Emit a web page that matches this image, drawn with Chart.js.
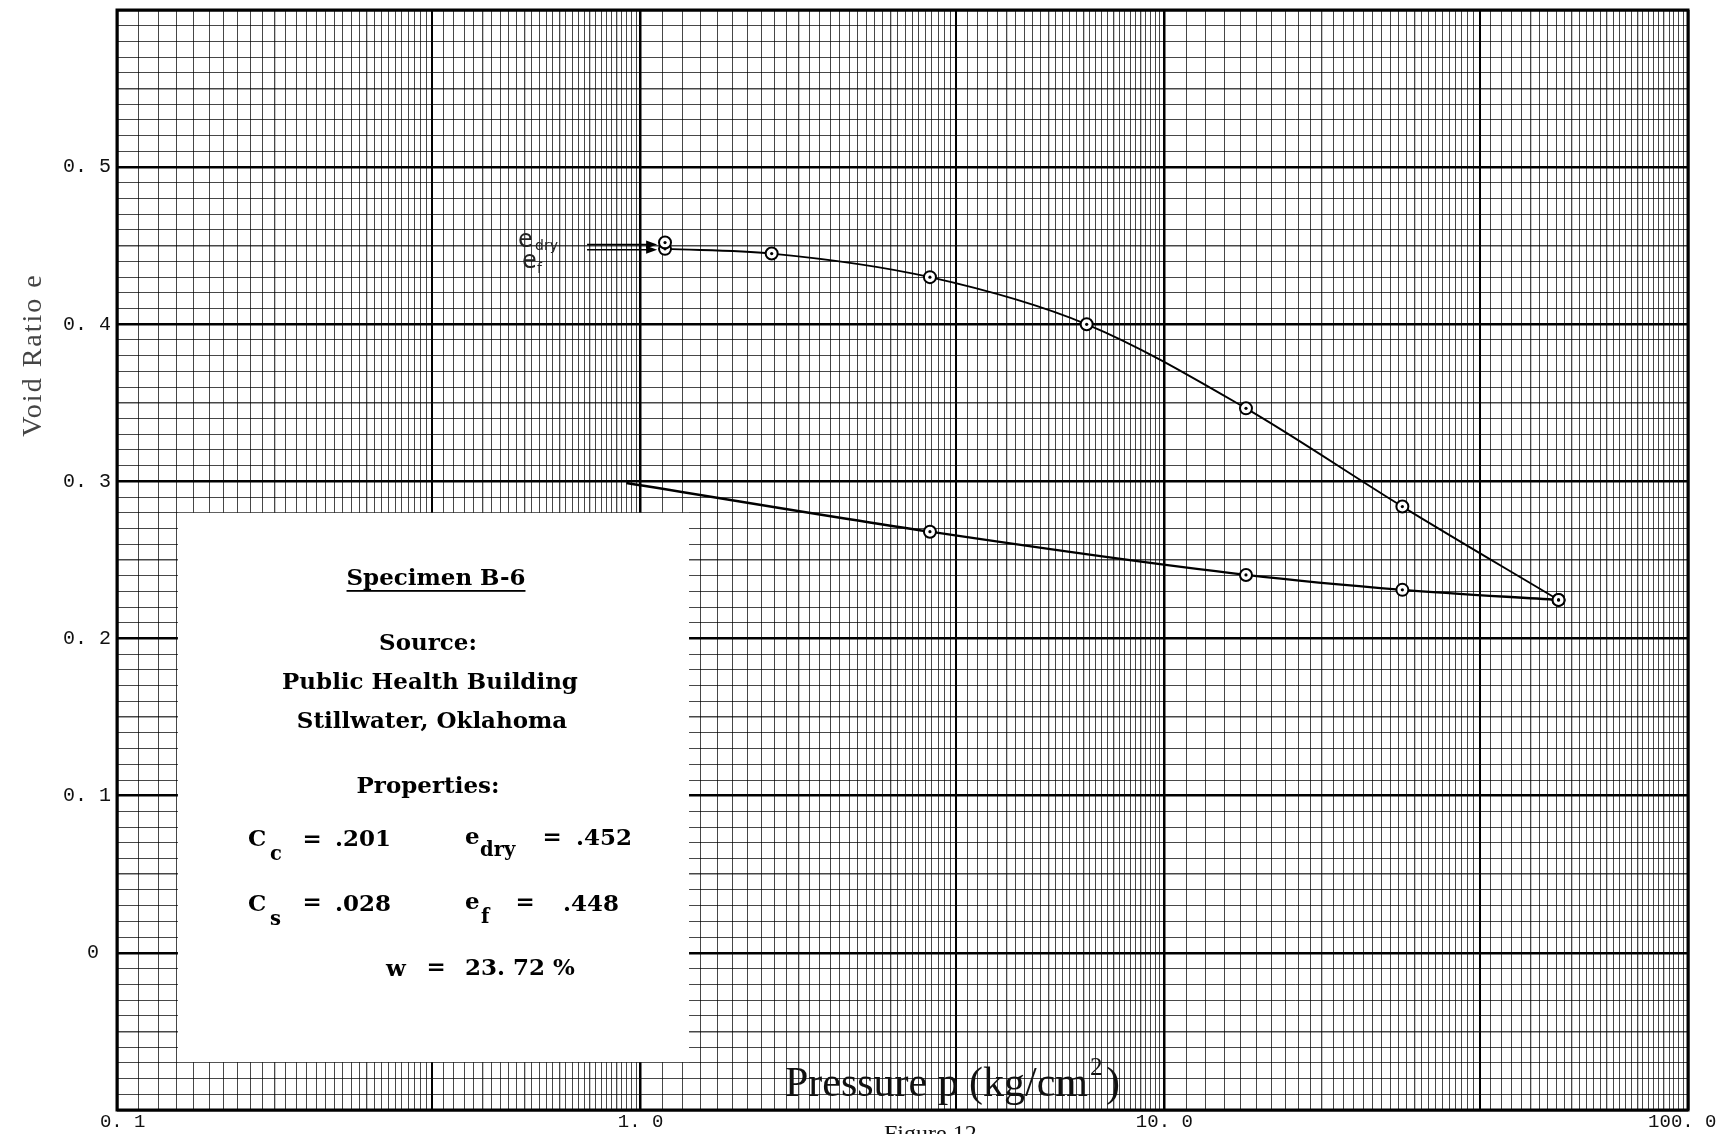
<!DOCTYPE html>
<html>
<head>
<meta charset="utf-8">
<script src="https://cdn.jsdelivr.net/npm/chart.js@4.4.1/dist/chart.umd.min.js"></script>
<style>
html,body{margin:0;padding:0;background:#fff;}
#wrap{width:1721px;height:1134px;position:relative;}
</style>
</head>
<body>
<div id="wrap"><canvas id="c"></canvas></div>
<script>
// ---------------- data ----------------
const loadPressure    = [1.113, 1.779, 3.568, 7.107, 14.32, 28.48, 56.6];
const loadVoidRatio   = [0.448, 0.445, 0.430, 0.400, 0.3465, 0.284, 0.2246];
const unloadPressure  = [0.939, 3.568, 14.32, 28.48, 56.6];
const unloadVoidRatio = [0.299, 0.268, 0.2405, 0.231, 0.2246];
const dryPressure     = [1.113];
const dryVoidRatio    = [0.452];

const xTickValues = [0.1, 1, 10, 100];
const xTickLabels = [' 0. 1', '1. 0', '10. 0', '100. 0 '];
const yTickValues = [0, 0.1, 0.2, 0.3, 0.4, 0.5];
const yTickLabels = ['0 ', '0. 1', '0. 2', '0. 3', '0. 4', '0. 5'];

const xTitle = 'Pressure p (kg/cm';
const xTitleSup = '2';
const yTitle = 'Void Ratio e';
const figureCaption = 'Figure 12';
const boxTitle = 'Specimen B-6';
const boxLines = ['Source:', 'Public Health Building', 'Stillwater, Oklahoma', 'Properties:'];
const props = { Cc: '.201', Cs: '.028', edry: '.452', ef: '.448', w: '23. 72 %' };

// annotation geometry in data units
const arrowFromP = 0.79, arrowToP = 1.075;
const boxP = [0.1307, 1.237];
const boxE = [-0.0695, 0.28];

// ---------------- graph-paper grid values ----------------
function buildXGrid() {
  const vals = [];
  for (let e = -1; e <= 1; e++) {
    const b = Math.pow(10, e);
    for (let m = 10; m < 40; m += 1) vals.push({v: +(m / 10 * b).toPrecision(6), m});
    for (let m = 40; m < 100; m += 2) vals.push({v: +(m / 10 * b).toPrecision(6), m});
  }
  vals.push({v: 100, m: 10});
  return vals;
}
const xGrid = buildXGrid();
const xGridMant = new Map(xGrid.map(g => [g.v, g.m]));
const yGrid = [];
for (let i = -10; i <= 60; i++) yGrid.push(i / 100);

function nearIdx(arr, v) {
  for (let i = 0; i < arr.length; i++) if (Math.abs(arr[i] - v) < 1e-9 * Math.max(1, Math.abs(v))) return i;
  return -1;
}

// ---------------- drawing plugin ----------------
const paperPlugin = {
  id: 'paper',
  beforeDraw(chart) {
    const ctx = chart.ctx;
    ctx.save();
    ctx.fillStyle = '#fff';
    ctx.fillRect(0, 0, chart.width, chart.height);
    ctx.restore();
  },
  beforeDatasetsDraw(chart) {
    const {ctx, chartArea: a, scales: {x, y}} = chart;
    ctx.save();
    const x0 = x.getPixelForValue(boxP[0]), x1 = x.getPixelForValue(boxP[1]);
    const y0 = y.getPixelForValue(boxE[1]), y1 = y.getPixelForValue(boxE[0]);
    ctx.fillStyle = '#fff';
    ctx.fillRect(x0, y0, x1 - x0, y1 - y0);
    ctx.strokeStyle = '#000';
    ctx.lineWidth = 3;
    ctx.strokeRect(a.left, a.top, a.right - a.left, a.bottom - a.top);
    ctx.restore();
  },
  afterDatasetsDraw(chart) {
    const {ctx, scales: {x, y}} = chart;
    ctx.save();
    chart.data.datasets.forEach((ds, di) => {
      const meta = chart.getDatasetMeta(di);
      meta.data.forEach(pt => {
        if (pt.options && pt.options.radius > 0) {
          ctx.beginPath();
          ctx.fillStyle = '#000';
          ctx.arc(pt.x, pt.y, 1.6, 0, Math.PI * 2);
          ctx.fill();
        }
      });
    });
    const ax0 = x.getPixelForValue(arrowFromP), ax1 = x.getPixelForValue(arrowToP);
    [dryVoidRatio[0], loadVoidRatio[0]].forEach((ev, k) => {
      const ay = y.getPixelForValue(ev) + (k === 0 ? 2 : 1);
      ctx.strokeStyle = '#000';
      ctx.lineWidth = 1.5;
      ctx.beginPath(); ctx.moveTo(ax0, ay); ctx.lineTo(ax1 - 8, ay); ctx.stroke();
      ctx.beginPath(); ctx.fillStyle = '#000';
      ctx.moveTo(ax1, ay); ctx.lineTo(ax1 - 11, ay - 4); ctx.lineTo(ax1 - 11, ay + 4); ctx.closePath(); ctx.fill();
    });
    const lx = ax0 - 69;
    const ty = y.getPixelForValue(dryVoidRatio[0]);
    ctx.fillStyle = '#222';
    ctx.textBaseline = 'alphabetic';
    ctx.textAlign = 'left';
    ctx.font = '24px "DejaVu Sans"';
    ctx.fillText('e', lx, ty + 4);
    ctx.font = '14px "DejaVu Sans"';
    ctx.fillText('dry', lx + 17, ty + 7);
    ctx.font = '24px "DejaVu Sans"';
    ctx.fillText('e', lx + 4, ty + 25);
    ctx.font = '14px "DejaVu Sans"';
    ctx.fillText('f', lx + 19, ty + 30);
    ctx.restore();
  },
  afterDraw(chart) {
    const ctx = chart.ctx;
    ctx.save();
    ctx.fillStyle = '#000';
    ctx.textBaseline = 'alphabetic';

    // --- text in the white box ---
    ctx.font = 'bold 20px "DejaVu Serif"';
    const fs = 20 * 296 / ctx.measureText(boxLines[1]).width;
    const F = s => `bold ${s}px "DejaVu Serif"`;
    ctx.textAlign = 'center';
    ctx.font = F(fs);
    ctx.fillText(boxTitle, 436, 585);
    const tw = ctx.measureText(boxTitle).width;
    ctx.fillRect(436 - tw / 2, 590, tw, 1.8);
    ctx.fillText(boxLines[0], 428, 650);
    ctx.fillText(boxLines[1], 430, 689);
    ctx.fillText(boxLines[2], 432, 728);
    ctx.fillText(boxLines[3], 428, 793);

    ctx.textAlign = 'left';
    const sub = fs * 0.85;
    // Cc row
    ctx.font = F(fs); ctx.fillText('C', 248, 846);
    ctx.font = F(sub); ctx.fillText('c', 270, 860);
    ctx.font = F(fs);
    ctx.textAlign = 'center'; ctx.fillText('=', 312, 846);
    ctx.textAlign = 'left'; ctx.fillText(props.Cc, 335, 846);
    ctx.fillText('e', 465, 844);
    ctx.font = F(sub); ctx.fillText('dry', 480, 856);
    ctx.font = F(fs);
    ctx.textAlign = 'center'; ctx.fillText('=', 552, 844);
    ctx.textAlign = 'left'; ctx.fillText(props.edry, 576, 845);
    // Cs row
    ctx.font = F(fs); ctx.fillText('C', 248, 911);
    ctx.font = F(sub); ctx.fillText('s', 270, 925);
    ctx.font = F(fs);
    ctx.textAlign = 'center'; ctx.fillText('=', 312, 909);
    ctx.textAlign = 'left'; ctx.fillText(props.Cs, 335, 911);
    ctx.fillText('e', 465, 909);
    ctx.font = F(sub); ctx.fillText('f', 481, 923);
    ctx.font = F(fs);
    ctx.textAlign = 'center'; ctx.fillText('=', 525, 909);
    ctx.textAlign = 'left'; ctx.fillText(props.ef, 563, 911);
    // w row
    ctx.font = F(fs); ctx.fillText('w', 386, 976);
    ctx.textAlign = 'center'; ctx.fillText('=', 436, 974);
    ctx.textAlign = 'left'; ctx.fillText(props.w, 465, 975);

    // --- axis titles ---
    ctx.font = '28px "Liberation Serif"';
    const pw = ctx.measureText(xTitle).width;
    const ps = 28 * 303 / pw;
    ctx.font = `${ps}px "Liberation Serif"`;
    ctx.fillStyle = '#111';
    ctx.fillText(xTitle, 785, 1096);
    ctx.font = `${ps * 0.6}px "Liberation Serif"`;
    ctx.fillText(xTitleSup, 1090, 1075);
    ctx.font = `${ps}px "Liberation Serif"`;
    ctx.fillText(')', 1106, 1096);

    ctx.save();
    ctx.translate(32, 355);
    ctx.rotate(-Math.PI / 2);
    ctx.textAlign = 'center';
    ctx.fillStyle = '#444';
    ctx.font = '28px "Liberation Serif"';
    ctx.letterSpacing = '2px';
    ctx.fillText(yTitle, 0, 9);
    ctx.restore();

    ctx.textBaseline = 'top';
    ctx.font = '24px "Liberation Serif"';
    ctx.fillStyle = '#111';
    ctx.fillText(figureCaption, 884, 1123);
    ctx.restore();
  }
};

// ---------------- chart ----------------
const markerRadius = 6;
new Chart(document.getElementById('c'), {
  type: 'scatter',
  data: {
    datasets: [
      {
        label: 'e dry',
        data: dryPressure.map((p, i) => ({x: p, y: dryVoidRatio[i]})),
        showLine: false,
        pointRadius: markerRadius, pointBorderWidth: 2,
        pointBackgroundColor: '#fff', pointBorderColor: '#000'
      },
      {
        label: 'loading',
        data: loadPressure.map((p, i) => ({x: p, y: loadVoidRatio[i]})),
        showLine: true, borderColor: '#000', borderWidth: 1.9, cubicInterpolationMode: 'monotone',
        pointRadius: markerRadius, pointBorderWidth: 2,
        pointBackgroundColor: '#fff', pointBorderColor: '#000'
      },
      {
        label: 'unloading',
        data: unloadPressure.map((p, i) => ({x: p, y: unloadVoidRatio[i]})),
        showLine: true, borderColor: '#000', borderWidth: 2.3, cubicInterpolationMode: 'monotone',
        pointRadius: c => c.dataIndex === 0 ? 0 : markerRadius, pointBorderWidth: 2,
        pointBackgroundColor: '#fff', pointBorderColor: '#000'
      }
    ]
  },
  options: {
    responsive: true,
    maintainAspectRatio: false,
    animation: false,
    layout: {padding: {left: 0, right: 33, top: 10, bottom: 0}},
    plugins: {legend: {display: false}, tooltip: {enabled: false}},
    scales: {
      x: {
        type: 'logarithmic', min: 0.1, max: 100,
        afterBuildTicks: s => { s.ticks = xGrid.map(g => ({value: g.v})); },
        afterFit: s => { s.height = 24; s.paddingLeft = 0; s.paddingRight = 0; },
        grid: {
          drawTicks: false,
          color: c => {
            const m = c.tick ? xGridMant.get(c.tick.value) : 0;
            return (m === 10 || m === 40) ? '#000' : 'rgba(0,0,0,0.72)';
          },
          lineWidth: c => {
            const m = c.tick ? xGridMant.get(c.tick.value) : 0;
            if (m === 10) return 2.5;
            if (m === 40) return 2;
            if (m % 10 === 0) return 1.3;
            return 1;
          }
        },
        border: {display: false},
        ticks: {
          autoSkip: false, maxRotation: 0, minRotation: 0, padding: 1,
          color: '#111',
          font: {family: '"Liberation Mono"', size: 19},
          callback: v => { const i = nearIdx(xTickValues, v); return i >= 0 ? xTickLabels[i] : ''; }
        }
      },
      y: {
        type: 'linear', min: -0.1, max: 0.6,
        afterBuildTicks: s => { s.ticks = yGrid.map(v => ({value: v})); },
        afterFit: s => { s.width = 117; s.paddingTop = 0; s.paddingBottom = 0; },
        grid: {
          drawTicks: false,
          color: c => {
            const k = c.tick ? Math.round(c.tick.value * 100) : 1;
            return k % 10 === 0 ? '#000' : 'rgba(0,0,0,0.72)';
          },
          lineWidth: c => {
            const k = c.tick ? Math.round(c.tick.value * 100) : 1;
            if (k % 10 === 0) return 2.5;
            if (k % 5 === 0) return 1.6;
            return 1;
          }
        },
        border: {display: false},
        ticks: {
          autoSkip: false, padding: 6,
          color: '#111',
          font: {family: '"Liberation Mono"', size: 20},
          callback: v => { const i = nearIdx(yTickValues, v); return i >= 0 ? yTickLabels[i] : ''; }
        }
      }
    }
  },
  plugins: [paperPlugin]
});
</script>
</body>
</html>
